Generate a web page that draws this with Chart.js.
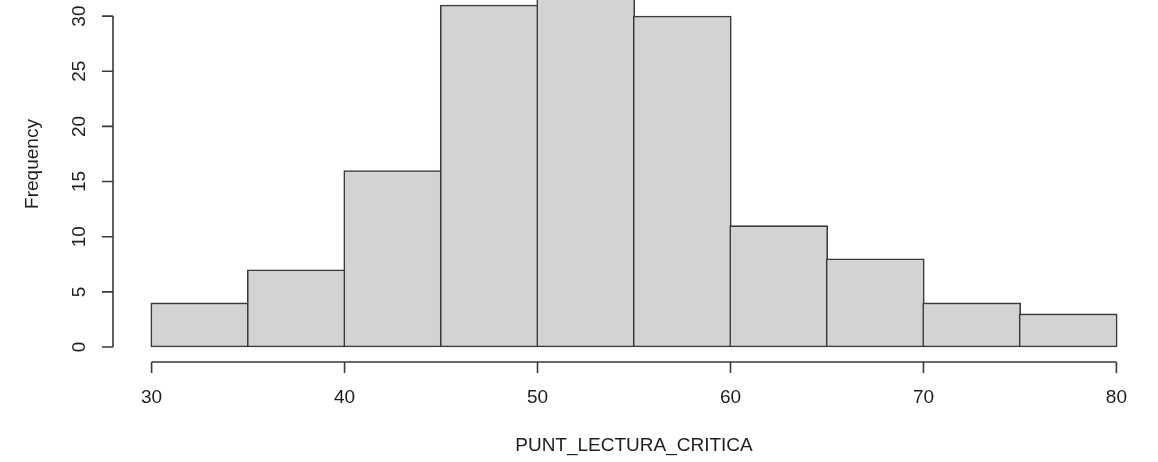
<!DOCTYPE html>
<html>
<head>
<meta charset="utf-8">
<script src="https://cdn.jsdelivr.net/npm/chart.js@4"></script>
<style>
  html, body { margin: 0; padding: 0; background: #ffffff; overflow: hidden; }
  #wrap { width: 1158px; height: 462px; position: relative; }
</style>
</head>
<body>
<div id="wrap"><canvas id="c"></canvas></div>
<script>
// Histogram data (bin edges 30..80 by 5)
const binStarts = [30, 35, 40, 45, 50, 55, 60, 65, 70, 75];
const binWidth = 5;
const frequencies = [4, 7, 16, 31, 34, 30, 11, 8, 4, 3];
const xTicks = [30, 40, 50, 60, 70, 80];
const yTicks = [0, 5, 10, 15, 20, 25, 30];
const xTitle = 'PUNT_LECTURA_CRITICA';
const yTitle = 'Frequency';

const points = binStarts.map((s, i) => ({ x: s + binWidth / 2, y: frequencies[i] }));

const FONT = '"Liberation Sans", Arial, sans-serif';
const INK = '#1e1e1e';
const LINE = '#3a3a3a';
const BW = 1.6;

const rAxes = {
  id: 'rAxes',
  afterDraw(chart) {
    const ctx = chart.ctx;
    const xs = chart.scales.x, ys = chart.scales.y;
    const area = chart.chartArea;
    ctx.save();
    ctx.strokeStyle = LINE;
    ctx.lineWidth = BW;
    ctx.fillStyle = INK;
    ctx.font = '19px ' + FONT;

    // x axis (detached, at bottom of plot region)
    const yAx = area.bottom;
    const x0 = xs.getPixelForValue(xTicks[0]);
    const x1 = xs.getPixelForValue(xTicks[xTicks.length - 1]);
    ctx.beginPath();
    ctx.moveTo(x0, yAx); ctx.lineTo(x1, yAx);
    xTicks.forEach(t => {
      const px = xs.getPixelForValue(t);
      ctx.moveTo(px, yAx); ctx.lineTo(px, yAx + 11);
    });
    ctx.stroke();
    ctx.textAlign = 'center';
    ctx.textBaseline = 'middle';
    xTicks.forEach(t => {
      ctx.fillText(String(t), xs.getPixelForValue(t), 398);
    });
    ctx.fillText(xTitle, (x0 + x1) / 2, 446);

    // y axis (at left of plot region)
    const xAx = area.left;
    const ya = ys.getPixelForValue(yTicks[0]);
    const yb = ys.getPixelForValue(yTicks[yTicks.length - 1]);
    ctx.beginPath();
    ctx.moveTo(xAx, ya); ctx.lineTo(xAx, yb);
    yTicks.forEach(t => {
      const py = ys.getPixelForValue(t);
      ctx.moveTo(xAx, py); ctx.lineTo(xAx - 11, py);
    });
    ctx.stroke();
    yTicks.forEach(t => {
      const py = ys.getPixelForValue(t);
      ctx.save();
      ctx.translate(80, py);
      ctx.rotate(-Math.PI / 2);
      ctx.fillText(String(t), 0, 0);
      ctx.restore();
    });
    ctx.save();
    ctx.translate(33, 164);
    ctx.rotate(-Math.PI / 2);
    ctx.fillText(yTitle, 0, 0);
    ctx.restore();
    ctx.restore();
  }
};

const chart = new Chart(document.getElementById('c'), {
  type: 'bar',
  data: {
    datasets: [{
      data: points,
      backgroundColor: '#d3d3d3',
      borderColor: LINE,
      borderWidth: BW,
      borderSkipped: false,
      grouped: false
    }]
  },
  options: {
    responsive: true,
    maintainAspectRatio: false,
    animation: false,
    layout: { padding: { left: 113, right: 3, top: 0, bottom: 100 } },
    plugins: { legend: { display: false }, tooltip: { enabled: false }, title: { display: false } },
    scales: {
      x: { type: 'linear', min: 28, max: 82, display: false, offset: false },
      y: { type: 'linear', min: -1.36, max: 31.46, display: false }
    }
  },
  plugins: [rAxes]
});

// Bar width = one bin width, measured on the library's x scale (plus border so shared edges overlap)
const xs = chart.scales.x;
chart.data.datasets[0].barThickness = xs.getPixelForValue(binStarts[0] + binWidth) - xs.getPixelForValue(binStarts[0]) + BW;
chart.update();
</script>
</body>
</html>
